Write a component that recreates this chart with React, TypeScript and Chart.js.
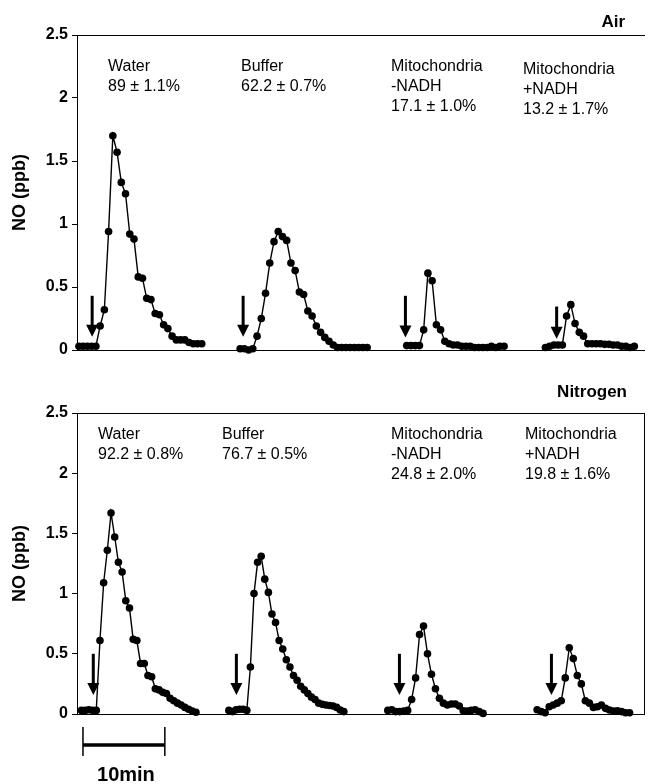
import React, { useEffect, useRef } from "react";
import { Chart, registerables } from "chart.js";

Chart.register(...registerables);

// ---------------- DATA ----------------
// NO (ppb) traces, sampled at a regular interval (minutes) starting at the given time
const airWater = [0.03, 0.03, 0.03, 0.03, 0.03, 0.19, 0.32, 0.94, 1.70, 1.57, 1.33, 1.24, 0.92, 0.88, 0.58, 0.57, 0.41, 0.40, 0.29, 0.28, 0.20, 0.17, 0.11, 0.08, 0.08, 0.08, 0.06, 0.05, 0.05, 0.05];
const airBuffer = [0.01, 0.01, 0.0, 0.01, 0.11, 0.25, 0.45, 0.69, 0.86, 0.94, 0.90, 0.87, 0.69, 0.63, 0.46, 0.44, 0.31, 0.27, 0.19, 0.14, 0.10, 0.07, 0.04, 0.02, 0.02, 0.02, 0.02, 0.02, 0.02, 0.02, 0.02];
const airMitoMinus = [0.035, 0.035, 0.035, 0.035, 0.16, 0.61, 0.55, 0.20, 0.16, 0.07, 0.05, 0.04, 0.04, 0.03, 0.03, 0.03, 0.02, 0.02, 0.02, 0.02, 0.03, 0.02, 0.03, 0.03];
const airMitoPlus = [0.02, 0.03, 0.04, 0.04, 0.04, 0.27, 0.36, 0.21, 0.14, 0.11, 0.05, 0.05, 0.05, 0.05, 0.045, 0.045, 0.04, 0.04, 0.03, 0.03, 0.02, 0.03];
const airStartMin = [-0.49, 19.3, 39.76, 56.79];
const airStepMin = [0.52, 0.52, 0.52, 0.52];

const n2Water = [0.03, 0.03, 0.035, 0.03, 0.03, 0.61, 1.09, 1.36, 1.67, 1.47, 1.26, 1.18, 0.94, 0.88, 0.62, 0.61, 0.42, 0.42, 0.32, 0.31, 0.21, 0.20, 0.18, 0.17, 0.13, 0.11, 0.09, 0.075, 0.055, 0.04, 0.025, 0.015];
const n2Buffer = [0.03, 0.02, 0.035, 0.04, 0.04, 0.03, 0.39, 1.0, 1.26, 1.31, 1.12, 1.01, 0.83, 0.76, 0.61, 0.54, 0.45, 0.39, 0.32, 0.28, 0.23, 0.20, 0.17, 0.14, 0.12, 0.09, 0.08, 0.075, 0.07, 0.066, 0.055, 0.033, 0.02];
const n2MitoMinus = [0.03, 0.035, 0.02, 0.02, 0.025, 0.03, 0.12, 0.30, 0.66, 0.73, 0.50, 0.33, 0.21, 0.13, 0.09, 0.075, 0.083, 0.083, 0.066, 0.027, 0.025, 0.03, 0.035, 0.02, 0.005];
const n2MitoPlus = [0.035, 0.02, 0.01, 0.06, 0.075, 0.09, 0.11, 0.30, 0.55, 0.46, 0.32, 0.25, 0.11, 0.09, 0.055, 0.06, 0.075, 0.047, 0.033, 0.025, 0.027, 0.02, 0.01, 0.01];
const n2StartMin = [-0.18, 17.82, 37.24, 55.48];
const n2StepMin = [0.451, 0.439, 0.485, 0.491];

// injection arrows: time (min), arrow top value, arrow tip value
const airArrowX = [1.13, 19.67, 39.6, 58.17];
const airArrowTop = [0.43, 0.43, 0.43, 0.345];
const airArrowTip = [0.105, 0.105, 0.1, 0.09];
const n2ArrowX = [1.26, 18.74, 38.66, 57.23];
const n2ArrowTop = [0.5, 0.5, 0.5, 0.5];
const n2ArrowTip = [0.158, 0.158, 0.158, 0.158];

// text
const airLabels = [["Water", "89 ± 1.1%"], ["Buffer", "62.2 ± 0.7%"], ["Mitochondria", "-NADH", "17.1 ± 1.0%"], ["Mitochondria", "+NADH", "13.2 ± 1.7%"]];
const n2Labels = [["Water", "92.2 ± 0.8%"], ["Buffer", "76.7 ± 0.5%"], ["Mitochondria", "-NADH", "24.8 ± 2.0%"], ["Mitochondria", "+NADH", "19.8 ± 1.6%"]];
const airTitle = "Air";
const n2Title = "Nitrogen";
const yTitle = "NO (ppb)";
const scaleBarLabel = "10min";
const scaleBarMinutes = 10;
const yTicks = [0, 0.5, 1, 1.5, 2, 2.5];
const yTickLabels = ["0", "0.5", "1", "1.5", "2", "2.5"];

// ---------------- LAYOUT ----------------
const FONT = '"Liberation Sans", Arial, Helvetica, sans-serif';
const X_MIN = -0.73;
const airLabelPos = [[108, 67], [241, 67], [391, 67], [523, 70]]; // left, first line centre (page px)
const n2LabelPos = [[98, 435], [222, 435], [391, 435], [525, 435]];
const LINE_GAP = 20;

type Panel = {
  top: number;
  height: number;
  padTop: number;
  padBottom: number;
  padRight: number;
  xMax: number;
  series: number[][];
  starts: number[];
  steps: number[];
  arrowX: number[];
  arrowTop: number[];
  arrowTip: number[];
  labels: string[][];
  labelPos: number[][];
  title: string;
  titleRight: number;
  titleY: number;
  rightBorder: boolean;
  scaleBar: boolean;
};

const panels: Panel[] = [
  {
    top: 0, height: 380, padTop: 35, padBottom: 30, padRight: 0, xMax: 69.02,
    series: [airWater, airBuffer, airMitoMinus, airMitoPlus],
    starts: airStartMin, steps: airStepMin,
    arrowX: airArrowX, arrowTop: airArrowTop, arrowTip: airArrowTip,
    labels: airLabels, labelPos: airLabelPos,
    title: airTitle, titleRight: 625, titleY: 22, rightBorder: false, scaleBar: false,
  },
  {
    top: 380, height: 404, padTop: 33, padBottom: 70, padRight: 3, xMax: 68.66,
    series: [n2Water, n2Buffer, n2MitoMinus, n2MitoPlus],
    starts: n2StartMin, steps: n2StepMin,
    arrowX: n2ArrowX, arrowTop: n2ArrowTop, arrowTip: n2ArrowTip,
    labels: n2Labels, labelPos: n2LabelPos,
    title: n2Title, titleRight: 627, titleY: 392, rightBorder: true, scaleBar: true,
  },
];

function makeConfig(p: Panel): any {
  const datasets = p.series.map((vals, k) => ({
    data: vals.map((v, i) => ({ x: p.starts[k] + i * p.steps[k], y: v })),
    borderColor: "#000",
    backgroundColor: "#000",
    borderWidth: 1.4,
    pointRadius: 3.8,
    pointBorderWidth: 0,
    pointBackgroundColor: "#000",
    tension: 0,
    clip: false,
  }));

  const decor = {
    id: "decor",
    afterDraw(chart: any) {
      const ctx = chart.ctx;
      const { left, right, top, bottom } = chart.chartArea;
      const xs = chart.scales.x;
      const ys = chart.scales.y;
      ctx.save();
      ctx.strokeStyle = "#000";
      ctx.lineWidth = 1;
      ctx.beginPath();
      ctx.moveTo(left, Math.round(top) + 0.5);
      ctx.lineTo(right, Math.round(top) + 0.5);
      ctx.moveTo(left, Math.round(bottom) + 0.5);
      ctx.lineTo(right, Math.round(bottom) + 0.5);
      if (p.rightBorder) {
        ctx.moveTo(Math.round(right) - 0.5, top);
        ctx.lineTo(Math.round(right) - 0.5, bottom);
      }
      ctx.stroke();

      // arrows
      ctx.fillStyle = "#000";
      p.arrowX.forEach((ax, i) => {
        const px = xs.getPixelForValue(ax);
        const y0 = ys.getPixelForValue(p.arrowTop[i]);
        const y1 = ys.getPixelForValue(p.arrowTip[i]);
        const headH = 12;
        const headW = 6;
        ctx.lineWidth = 3;
        ctx.beginPath();
        ctx.moveTo(px, y0);
        ctx.lineTo(px, y1 - headH + 1);
        ctx.stroke();
        ctx.beginPath();
        ctx.moveTo(px - headW, y1 - headH);
        ctx.lineTo(px + headW, y1 - headH);
        ctx.lineTo(px, y1);
        ctx.closePath();
        ctx.fill();
      });

      // annotations
      ctx.font = `16px ${FONT}`;
      ctx.textAlign = "left";
      ctx.textBaseline = "middle";
      p.labels.forEach((lines, i) => {
        const [lx, ly] = p.labelPos[i];
        lines.forEach((t, j) => ctx.fillText(t, lx, ly - p.top + j * LINE_GAP));
      });

      // panel title
      ctx.font = `bold 17px ${FONT}`;
      ctx.textAlign = "right";
      ctx.fillText(p.title, p.titleRight, p.titleY - p.top);

      // time scale bar
      if (p.scaleBar) {
        const x0 = xs.getPixelForValue(0);
        const x1 = xs.getPixelForValue(scaleBarMinutes);
        const yb = 745 - p.top;
        ctx.lineWidth = 1.5;
        ctx.beginPath();
        ctx.moveTo(x0, 727 - p.top);
        ctx.lineTo(x0, 756 - p.top);
        ctx.moveTo(x1, 727 - p.top);
        ctx.lineTo(x1, 756 - p.top);
        ctx.stroke();
        ctx.lineWidth = 3.5;
        ctx.beginPath();
        ctx.moveTo(x0, yb);
        ctx.lineTo(x1, yb);
        ctx.stroke();
        ctx.font = `bold 20px ${FONT}`;
        ctx.textAlign = "center";
        ctx.fillText(scaleBarLabel, (x0 + x1) / 2 + 2, 775 - p.top);
      }
      ctx.restore();
    },
  };

  return {
    type: "line",
    data: { datasets },
    options: {
      animation: false,
      responsive: false,
      devicePixelRatio: 1,
      layout: { padding: { top: p.padTop, bottom: p.padBottom, left: 0, right: p.padRight } },
      plugins: { legend: { display: false }, tooltip: { enabled: false }, title: { display: false } },
      scales: {
        x: { type: "linear", display: false, min: X_MIN, max: p.xMax },
        y: {
          type: "linear",
          min: 0,
          max: 2.5,
          afterFit: (s: any) => { s.width = 77; },
          afterBuildTicks: (s: any) => { s.ticks = yTicks.map((v) => ({ value: v })); },
          ticks: {
            color: "#000",
            font: { family: FONT, size: 16, weight: "bold" },
            padding: 4,
            callback: (v: number) => {
              const idx = yTicks.indexOf(v);
              return idx >= 0 ? yTickLabels[idx] : String(v);
            },
          },
          grid: { drawOnChartArea: false, drawTicks: true, tickLength: 5, color: "#000" },
          border: { display: true, color: "#000", width: 1 },
          title: { display: true, text: yTitle, color: "#000", font: { family: FONT, size: 18, weight: "bold" }, padding: { top: 9, bottom: 0 } },
        },
      },
    },
    plugins: [decor],
  };
}

function PanelChart({ p }: { p: Panel }) {
  const ref = useRef<HTMLCanvasElement | null>(null);
  useEffect(() => {
    if (!ref.current) return;
    const chart = new Chart(ref.current, makeConfig(p));
    return () => chart.destroy();
  }, [p]);
  return (
    <canvas
      ref={ref}
      width={649}
      height={p.height}
      style={{ position: "absolute", left: 0, top: p.top, width: 649, height: p.height }}
    />
  );
}

export default function App() {
  return (
    <div style={{ position: "fixed", left: 0, top: 0, width: 649, height: 784, background: "#fff", overflow: "hidden" }}>
      {panels.map((p, i) => (
        <PanelChart key={i} p={p} />
      ))}
    </div>
  );
}
